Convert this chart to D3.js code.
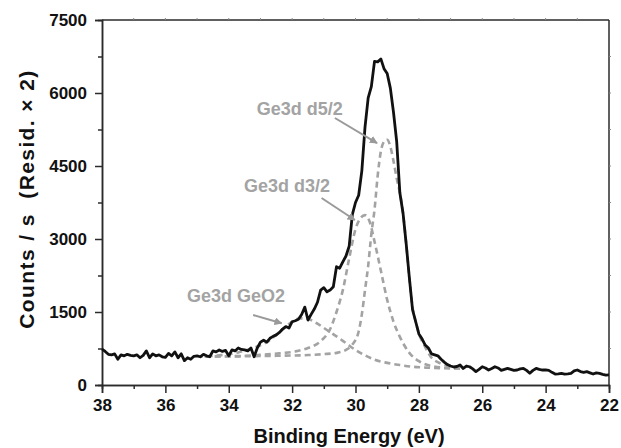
<!DOCTYPE html>
<html><head><meta charset="utf-8">
<script src="https://cdn.jsdelivr.net/npm/d3@7"></script>
<style>html,body{margin:0;padding:0;background:#fff;} svg{display:block;}</style>
</head><body>
<svg id="chart" width="621" height="448"></svg>
<script>
// ---------- DATA ----------
const measured = [
[38.0,740],[37.9,690],[37.8,630],[37.7,620],[37.6,640],[37.5,530],[37.4,620],[37.3,600],[37.2,630],[37.1,610],
[37.0,600],[36.9,620],[36.8,560],[36.7,610],[36.6,700],[36.5,560],[36.4,640],[36.3,600],[36.2,620],[36.1,580],
[36.0,570],[35.9,650],[35.8,600],[35.7,680],[35.6,560],[35.5,640],[35.4,500],[35.3,560],[35.2,530],[35.1,590],
[35.0,600],[34.9,580],[34.8,630],[34.7,600],[34.6,580],[34.5,700],[34.4,680],[34.3,720],[34.2,690],[34.1,710],
[34.0,600],[33.9,720],[33.8,700],[33.7,760],[33.6,730],[33.5,720],[33.4,700],[33.3,760],[33.2,580],[33.1,760],
[33.0,880],[32.9,920],[32.8,880],[32.7,960],[32.6,1000],[32.5,1030],[32.4,1080],[32.3,1150],[32.2,1200],[32.1,1170],
[32.0,1300],[31.9,1320],[31.8,1350],[31.7,1450],[31.6,1600],[31.5,1335],[31.4,1450],[31.3,1560],[31.2,1700],[31.1,1950],
[31.0,2000],[30.9,1915],[30.8,1950],[30.7,2020],[30.6,2430],[30.5,2400],[30.4,2530],[30.3,2650],[30.2,2850],[30.1,3500],
[30.0,3750],[29.9,3900],[29.8,4400],[29.7,5300],[29.6,5900],[29.5,6130],[29.4,6650],[29.3,6640],[29.2,6700],[29.1,6500],
[29.0,6400],[28.9,6100],[28.8,5600],[28.7,5000],[28.6,3950],[28.5,3530],[28.4,2900],[28.3,2200],[28.2,1550],[28.1,1300],
[28.0,1050],[27.9,950],[27.8,820],[27.7,760],[27.6,640],[27.5,620],[27.4,600],[27.3,530],[27.2,470],[27.1,420],
[27.0,390],[26.9,370],[26.8,380],[26.7,410],[26.6,340],[26.5,390],[26.4,375],[26.3,330],[26.2,275],[26.1,320],
[26.0,375],[25.9,350],[25.8,308],[25.7,340],[25.6,375],[25.5,350],[25.4,300],[25.3,320],[25.2,340],[25.1,320],
[25.0,300],[24.9,308],[24.8,330],[24.7,340],[24.6,300],[24.5,240],[24.4,300],[24.3,340],[24.2,320],[24.1,308],
[24.0,310],[23.9,300],[23.8,260],[23.7,225],[23.6,230],[23.5,240],[23.4,225],[23.3,230],[23.2,240],[23.1,290],
[23.0,308],[22.9,275],[22.8,260],[22.7,275],[22.6,250],[22.5,225],[22.4,250],[22.3,240],[22.2,220],[22.1,205],
[22.0,210]
];
const fitGeO2 = [
[34.9,585],[34.6,595],[34.3,610],[34.0,630],[33.7,670],[33.4,725],[33.1,790],[32.8,880],[32.5,1030],[32.2,1200],
[31.95,1320],[31.75,1370],[31.5,1355],[31.2,1260],[30.9,1130],[30.6,1000],[30.3,860],[30.0,720],[29.7,610],[29.4,520],
[29.0,455],[28.6,410],[28.2,375],[27.7,355],[27.2,345],[26.7,340]
];
const fitD32 = [
[34.9,585],[34.2,590],[33.5,600],[33.0,620],[32.4,650],[31.9,690],[31.5,760],[31.1,900],[30.8,1150],[30.6,1500],
[30.4,1950],[30.2,2600],[30.0,3200],[29.85,3420],[29.7,3490],[29.55,3350],[29.4,2950],[29.2,2350],[29.0,1750],[28.8,1300],
[28.6,990],[28.3,660],[28.0,490],[27.6,390],[27.2,355],[26.7,340]
];
const fitD52 = [
[34.9,585],[33.5,590],[32.5,600],[31.5,615],[31.0,635],[30.6,660],[30.3,720],[30.1,830],[29.9,1100],[29.8,1450],
[29.7,1950],[29.6,2450],[29.5,3100],[29.4,3600],[29.3,4300],[29.2,4800],[29.1,5000],[29.0,5040],[28.9,4900],[28.8,4600],
[28.7,4250],[28.6,3950],[28.5,3530],[28.4,2900],[28.3,2200],[28.2,1600],[28.1,1300],[28.0,1060],[27.8,780],[27.6,560],
[27.3,440],[27.0,380],[26.7,350]
];
const xTickValues = [38,36,34,32,30,28,26,24,22];
const yTickValues = [0,1500,3000,4500,6000,7500];
const peakLabels = ["Ge3d d5/2","Ge3d d3/2","Ge3d GeO2"];
const xTitle = "Binding Energy (eV)";
const yTitle = "Counts / s  (Resid. \u00d7 2)";

// ---------- LAYOUT ----------
const svg = d3.select("#chart");
const L = 102, R = 609, T = 20, B = 385;
const x = d3.scaleLinear().domain([38,22]).range([L,R]);
const y = d3.scaleLinear().domain([0,7500]).range([B,T]);
const font = "'Liberation Sans', Arial, Helvetica, sans-serif";
const axisColor = "#2b2b2b";

// frame (top/right)
svg.append("line").attr("x1",L).attr("x2",R).attr("y1",T).attr("y2",T).attr("stroke",axisColor).attr("stroke-width",1.5);
svg.append("line").attr("x1",R).attr("x2",R).attr("y1",T).attr("y2",B).attr("stroke",axisColor).attr("stroke-width",1.5);
// minor mirror ticks
const topTicks = d3.range(37,22,-1);
svg.selectAll(".tt").data(topTicks).join("line").attr("x1",d=>x(d)).attr("x2",d=>x(d)).attr("y1",T).attr("y2",T-2).attr("stroke","#888").attr("stroke-width",1);
const rightTicks = [750,1500,2250,3000,3750,4500,5250,6000,6750];
svg.selectAll(".rt").data(rightTicks).join("line").attr("x1",R).attr("x2",R+2).attr("y1",d=>y(d)).attr("y2",d=>y(d)).attr("stroke","#888").attr("stroke-width",1);

// bottom axis
const gx = svg.append("g").attr("transform",`translate(0,${B})`)
  .call(d3.axisBottom(x).tickValues(xTickValues).tickSize(8).tickPadding(6).tickFormat(d3.format("d")));
const gxm = svg.append("g").attr("transform",`translate(0,${B})`)
  .call(d3.axisBottom(x).tickValues(d3.range(37,22,-2)).tickSize(4).tickFormat(""));
// left axis
const gy = svg.append("g").attr("transform",`translate(${L},0)`)
  .call(d3.axisLeft(y).tickValues(yTickValues).tickSize(7).tickPadding(8).tickFormat(d3.format("d")));
const gym = svg.append("g").attr("transform",`translate(${L},0)`)
  .call(d3.axisLeft(y).tickValues([750,2250,3750,5250,6750]).tickSize(4).tickFormat(""));
[gx,gxm,gy,gym].forEach(g=>{
  g.select(".domain").attr("stroke",axisColor).attr("stroke-width",1.5);
  g.selectAll(".tick line").attr("stroke",axisColor).attr("stroke-width",1.5);
  g.selectAll("text").attr("font-family",font).attr("font-weight","bold").attr("font-size",17).attr("fill","#111");
});

// fits
const lineGen = d3.line().x(d=>x(d[0])).y(d=>y(d[1])).curve(d3.curveMonotoneX);
[fitD52, fitD32, fitGeO2].forEach(s=>{
  svg.append("path").datum(s.slice().reverse()).attr("d",lineGen)
    .attr("fill","none").attr("stroke","#a3a3a3").attr("stroke-width",2.6)
    .attr("stroke-dasharray","6,4");
});
// measured
const dataLine = d3.line().x(d=>x(d[0])).y(d=>y(d[1]));
svg.append("path").datum(measured).attr("d",dataLine)
  .attr("fill","none").attr("stroke","#111").attr("stroke-width",2.8).attr("stroke-linejoin","round");

// annotations
const defs = svg.append("defs");
defs.append("marker").attr("id","ah").attr("viewBox","0 0 10 10").attr("refX",9).attr("refY",5)
  .attr("markerWidth",4).attr("markerHeight",4).attr("orient","auto")
  .append("path").attr("d","M0,0 L10,5 L0,10 z").attr("fill","#9a9a9a");
const ann = [
  {t:peakLabels[0], tx:30.40, ty:5548, anchor:"end", a:[[30.65,5486],[29.32,4972]]},
  {t:peakLabels[1], tx:30.80, ty:3965, anchor:"end", a:[[31.07,3842],[30.02,3390]]},
  {t:peakLabels[2], tx:33.77, ty:1705, anchor:"middle", a:[[33.23,1438],[32.33,1268]]}
];
ann.forEach(d=>{
  svg.append("text").attr("x",x(d.tx)).attr("y",y(d.ty)).attr("text-anchor",d.anchor)
    .attr("font-family",font).attr("font-weight","bold").attr("font-size",18).attr("fill","#a3a3a3").text(d.t);
  svg.append("line").attr("x1",x(d.a[0][0])).attr("y1",y(d.a[0][1])).attr("x2",x(d.a[1][0])).attr("y2",y(d.a[1][1]))
    .attr("stroke","#9a9a9a").attr("stroke-width",2).attr("marker-end","url(#ah)");
});

// titles
svg.append("text").attr("x",349).attr("y",443).attr("text-anchor","middle")
  .attr("font-family",font).attr("font-weight","bold").attr("font-size",20).attr("fill","#111").text(xTitle);
svg.append("text").attr("transform",`translate(34,199) rotate(-90)`).attr("text-anchor","middle")
  .attr("font-family",font).attr("font-weight","bold").attr("font-size",21)
  .attr("letter-spacing",1.4).style("white-space","pre").attr("fill","#111").text(yTitle);
</script>
</body></html>
